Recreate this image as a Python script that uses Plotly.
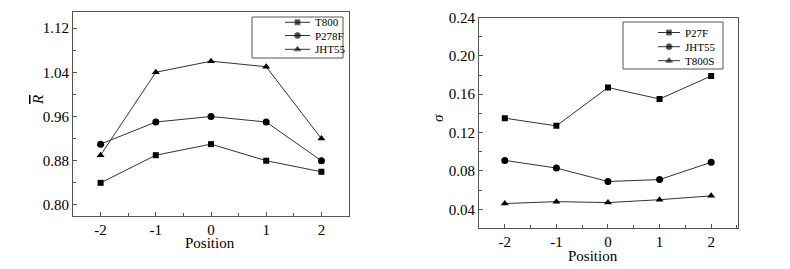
import plotly.graph_objects as go

positions = [-2, -1, 0, 1, 2]

# Left panel: mean R
left_names = ["T800", "P278F", "JHT55"]
t800 = [0.84, 0.89, 0.91, 0.88, 0.86]
p278f = [0.91, 0.95, 0.96, 0.95, 0.88]
jht55_left = [0.89, 1.04, 1.06, 1.05, 0.92]

# Right panel: sigma
right_names = ["P27F", "JHT55", "T800S"]
p27f = [0.135, 0.127, 0.167, 0.155, 0.179]
jht55_right = [0.091, 0.083, 0.069, 0.071, 0.089]
t800s = [0.046, 0.048, 0.047, 0.050, 0.054]

symbols = ["square", "circle", "triangle-up"]
msizes = [6, 7, 7]
WIN_W, WIN_H = 790, 269
OFF = 8  # default body margin of the page
W, H = WIN_W - OFF, WIN_H - OFF
FONT = "Liberation Serif, Times New Roman, Times, serif"
LINE = "#333333"
AX = "#555555"

fig = go.Figure()
for name, vals, sym, ms in zip(left_names, [t800, p278f, jht55_left], symbols, msizes):
    fig.add_trace(go.Scatter(x=positions, y=vals, name=name, mode="lines+markers",
                             line=dict(color=LINE, width=1),
                             marker=dict(symbol=sym, size=ms, color="black"),
                             xaxis="x", yaxis="y", showlegend=False))
for name, vals, sym, ms in zip(right_names, [p27f, jht55_right, t800s], symbols, msizes):
    fig.add_trace(go.Scatter(x=positions, y=vals, name=name, mode="lines+markers",
                             line=dict(color=LINE, width=1),
                             marker=dict(symbol=sym, size=ms, color="black"),
                             xaxis="x2", yaxis="y2", showlegend=False))


def px_x(p):
    return (p - OFF) / W


def px_y(p):
    return 1 - (p - OFF) / H


# Custom compact legends (overlay pixel axis): box, key sample, label
legend_specs = [
    dict(names=left_names, box=(252, 17, 343, 58), rows=[22.3, 35.5, 49.3],
         key=(285, 310), text_x=312.5),
    dict(names=right_names, box=(623, 22, 723, 69), rows=[32.5, 46.7, 60.7],
         key=(658, 680), text_x=682.5),
]
annotations = []
shapes = []
for spec in legend_specs:
    x0, y0, x1, y1 = spec["box"]
    shapes.append(dict(type="rect", xref="paper", yref="paper",
                       x0=px_x(x0), x1=px_x(x1), y0=px_y(y1), y1=px_y(y0),
                       line=dict(color=AX, width=1), fillcolor="rgba(0,0,0,0)",
                       layer="below"))
    ka, kb = spec["key"]
    for name, row, sym, ms in zip(spec["names"], spec["rows"], symbols, msizes):
        fig.add_trace(go.Scatter(x=[ka, (ka + kb) / 2, kb], y=[row, row, row],
                                 mode="lines+markers", line=dict(color=LINE, width=1),
                                 marker=dict(symbol=sym, size=[0, ms - 1, 0], color="black"),
                                 xaxis="x3", yaxis="y3", showlegend=False, hoverinfo="skip"))
        annotations.append(dict(text=name, x=px_x(spec["text_x"]), y=px_y(row),
                                xref="paper", yref="paper", xanchor="left", yanchor="middle",
                                showarrow=False,
                                font=dict(family=FONT, size=11, color="black")))

axis_common = dict(showline=True, linecolor=AX, linewidth=1, mirror=True,
                   ticks="inside", ticklen=4, tickcolor=AX, showgrid=False,
                   zeroline=False, automargin=False,
                   tickfont=dict(family=FONT, size=15, color="black"))

title_common = dict(xref="paper", yref="paper", showarrow=False,
                    xanchor="center", yanchor="middle",
                    font=dict(family=FONT, size=15, color="black"))
annotations += [
    dict(text="Position", x=px_x(210), y=px_y(243), **title_common),
    dict(text="Position", x=px_x(593), y=px_y(256), **title_common),
    dict(text="<i><span style=\"text-decoration:overline\">R</span></i>",
         x=px_x(38), y=px_y(100), textangle=-90, **title_common),
    dict(text="<i>σ</i>", x=px_x(438), y=px_y(118), textangle=-90, **title_common),
]

fig.update_layout(
    width=W, height=H, margin=dict(l=0, r=0, t=0, b=0, autoexpand=False),
    paper_bgcolor="white", plot_bgcolor="rgba(0,0,0,0)", showlegend=False,
    font=dict(family=FONT, color="black"),
    xaxis=dict(domain=[px_x(73), px_x(349)], range=[-2.5, 2.5], tickmode="array",
               tickvals=positions, ticktext=[str(p) for p in positions],
               minor=dict(ticks="inside", ticklen=3, dtick=0.5, tick0=-2.5, tickcolor=AX),
               anchor="y", **axis_common),
    yaxis=dict(domain=[px_y(216), px_y(12)], range=[0.78, 1.149], dtick=0.08, tick0=0.80,
               tickformat=".2f", minor=dict(ticks="inside", ticklen=3, dtick=0.04, tick0=0.80,
                                            tickcolor=AX),
               anchor="x", **axis_common),
    xaxis2=dict(domain=[px_x(479), px_x(738)], range=[-2.5, 2.52], tickmode="array",
                tickvals=positions, ticktext=[str(p) for p in positions],
                minor=dict(ticks="inside", ticklen=3, dtick=0.5, tick0=-2.5, tickcolor=AX),
                anchor="y2", **axis_common),
    yaxis2=dict(domain=[px_y(228), px_y(17.5)], range=[0.0205, 0.24], dtick=0.04, tick0=0.04,
                tickformat=".2f", minor=dict(ticks="inside", ticklen=3, dtick=0.02, tick0=0.02,
                                             tickcolor=AX),
                anchor="x2", **axis_common),
    xaxis3=dict(domain=[0, 1], range=[OFF, WIN_W], visible=False, anchor="y3",
                automargin=False, fixedrange=True),
    yaxis3=dict(domain=[0, 1], range=[WIN_H, OFF], visible=False, anchor="x3",
                automargin=False, fixedrange=True),
    shapes=shapes,
    annotations=annotations,
)

fig.write_html("out.html")
